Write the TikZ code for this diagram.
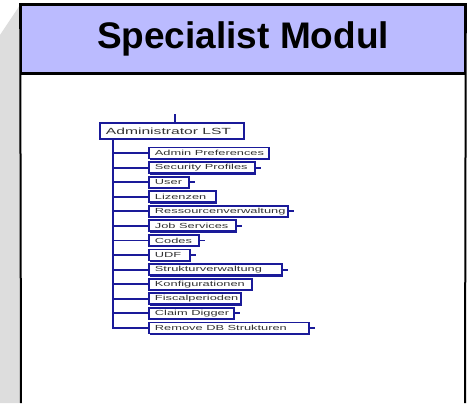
\documentclass[tikz,border=0pt]{standalone}
\usepackage{fontspec}
\setmainfont{Liberation Sans}
\newfontfamily\treefont[FakeStretch=1.75]{Liberation Sans}
\usetikzlibrary{shadows}
\definecolor{hdr}{HTML}{BBBBFF}
\definecolor{navy}{HTML}{1A1A99}
\definecolor{panel}{HTML}{DDDDDD}
\definecolor{txt}{HTML}{333333}
\begin{document}
\begin{tikzpicture}[x=0.75pt,y=-0.75pt,
  frame/.style={line width=1.5pt, draw=black},
  tline/.style={draw=navy, line width=1.4pt},
  tbox/.style={draw=navy, line width=1.4pt, fill=white, inner ysep=0pt, inner xsep=4.5pt,
    anchor=west, text=txt, minimum height=8.25pt,
    drop shadow={shadow xshift=1.1pt, shadow yshift=-1.1pt, fill=navy, opacity=1},
    font=\treefont\fontsize{5.5}{6}\selectfont},
  rootbox/.style={tbox, minimum height=12pt, font=\treefont\fontsize{6.7}{7}\selectfont}]
\useasboundingbox (0,0) rectangle (467,403);
\fill[panel] (0,35) -- (20,5) -- (20,403) -- (0,403) -- cycle;
\node[fill=hdr, draw=black, line width=1.2pt, minimum width=444*0.75pt, minimum height=68*0.75pt,
  inner sep=0pt, font=\bfseries\fontsize{27.75}{30}\selectfont] (title) at (243,39) {Specialist Modul};
\coordinate (bl) at (21,403);
\coordinate (br) at (465,403);
\draw[frame] (bl) -- (title.north west) -- (title.north east) -- (br);
\draw[black, line width=1.2pt] (title.south west) -- (title.south east);
% tree
\node[rootbox] (root) at (99,131) {\makebox[99pt][l]{Administrator LST}};
\coordinate (stub) at (175,114);
\draw[tline] (stub) -- (stub |- root.north);
\coordinate (trunk) at ([xshift=14*0.75pt]root.south west);
\foreach \i/\lab/\r/\t in {
  1/Admin Preferences/268/0,
  2/Security Profiles/254/1,
  3/User/188/1,
  4/Lizenzen/215/0,
  5/Ressourcenverwaltung/287/1,
  6/Job Services/235/1,
  7/Codes/198/1,
  8/UDF/189/1,
  9/Strukturverwaltung/281/1,
  10/Konfigurationen/251/0,
  11/Fiscalperioden/240/0,
  12/Claim Digger/233/1,
  13/Remove DB Strukturen/308/1}{
  \pgfmathsetmacro{\yy}{153+14.58*(\i-1)}
  \pgfmathsetmacro{\ww}{(\r-148-12)*0.75}
  \node[tbox] (c\i) at (148,\yy) {\makebox[\ww pt][l]{\lab}};
  \draw[tline] (trunk) |- (c\i.west);
  \ifnum\t=1 \draw[tline] (c\i.east) -- ++(5,0); \fi
}
\end{tikzpicture}
\end{document}
